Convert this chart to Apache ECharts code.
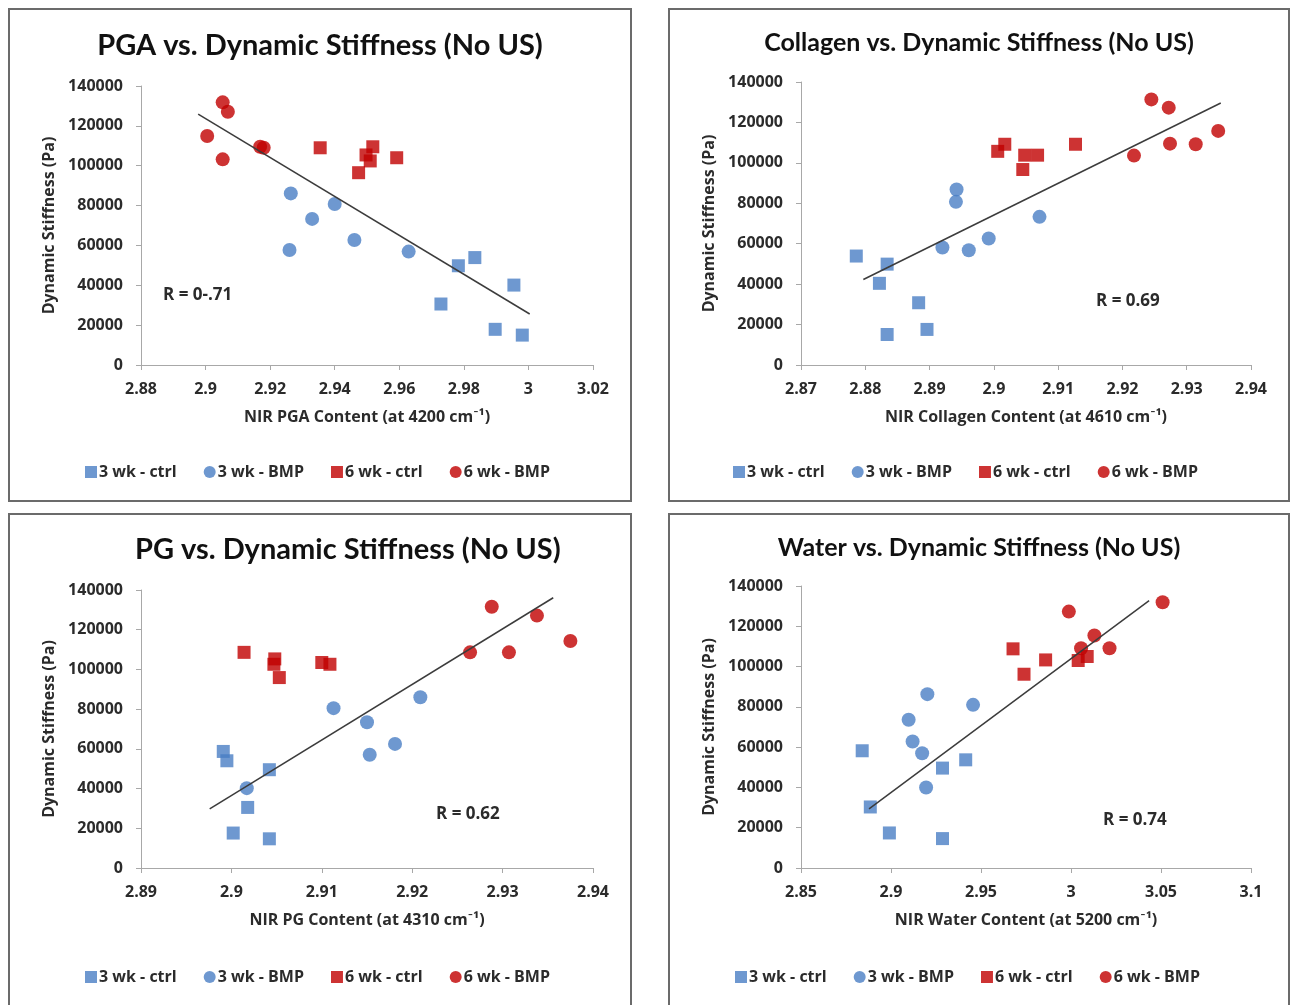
<!DOCTYPE html>
<html>
<head>
<meta charset="utf-8">
<script src="https://cdn.jsdelivr.net/npm/echarts@6/dist/echarts.min.js"></script>
<style>
    body { margin: 0; background: #fff; width: 1296px; height: 1005px; overflow: hidden; position: relative; }
    .panel { position: absolute; box-sizing: border-box; border: 2px solid #6b6b6b; background: #fff; }
    .chart { width: 100%; height: 100%; }
</style>
</head>
<body>
<div class="panel" style="left:8px;top:8px;width:624px;height:494px"><div class="chart" id="main1"></div></div>
<div class="panel" style="left:668px;top:8px;width:622px;height:494px"><div class="chart" id="main2"></div></div>
<div class="panel" style="left:8px;top:513px;width:624px;height:494px"><div class="chart" id="main3"></div></div>
<div class="panel" style="left:668px;top:513px;width:622px;height:494px"><div class="chart" id="main4"></div></div>
<script>
// legend names
var groupNames = ['3 wk - ctrl', '3 wk - BMP', '6 wk - ctrl', '6 wk - BMP'];
var stiffnessTicks = [0, 140000, 20000];

// PGA panel [NIR content, stiffness Pa]
var pga3Ctrl = [[2.9729, 30600], [2.9783, 49800], [2.9834, 53900], [2.9897, 17900], [2.9955, 40100], [2.9981, 15000]];
var pga3Bmp = [[2.9264, 86100], [2.9260, 57700], [2.9330, 73300], [2.9400, 80800], [2.9461, 62700], [2.9629, 56900]];
var pga6Ctrl = [[2.9355, 109000], [2.9474, 96500], [2.9497, 105400], [2.9510, 102400], [2.9518, 109500], [2.9592, 104000]];
var pga6Bmp = [[2.9053, 131800], [2.9069, 127100], [2.9005, 114900], [2.9053, 103200], [2.9169, 109500], [2.9180, 109000]];
var pgaTrend = [[2.8977, 125900], [3.0004, 25600]];
var pgaTicks = [2.88, 3.02, 0.02];

// Collagen panel
var col3Ctrl = [[2.8786, 53900], [2.8834, 49900], [2.8822, 40400], [2.8883, 30800], [2.8896, 17600], [2.8834, 15100]];
var col3Bmp = [[2.8942, 86800], [2.8941, 80700], [2.8920, 58100], [2.8961, 56800], [2.8992, 62600], [2.9071, 73300]];
var col6Ctrl = [[2.9006, 105700], [2.9017, 109200], [2.9045, 96700], [2.9048, 103800], [2.9068, 103800], [2.9127, 109200]];
var col6Bmp = [[2.9245, 131400], [2.9272, 127300], [2.9218, 103600], [2.9274, 109500], [2.9314, 109200], [2.9349, 115800]];
var colTrend = [[2.8797, 42300], [2.9353, 129600]];
var colTicks = [2.87, 2.94, 0.01];

// PG panel
var pg3Ctrl = [[2.8991, 58700], [2.8995, 54000], [2.9042, 49500], [2.9018, 30500], [2.9002, 17600], [2.9042, 14700]];
var pg3Bmp = [[2.9209, 86000], [2.9113, 80500], [2.9150, 73400], [2.9153, 57000], [2.9181, 62500], [2.9017, 40200]];
var pg6Ctrl = [[2.9014, 108600], [2.9048, 105300], [2.9047, 102600], [2.9053, 95900], [2.9100, 103500], [2.9109, 102600]];
var pg6Bmp = [[2.9288, 131600], [2.9338, 127100], [2.9264, 108600], [2.9307, 108600], [2.9375, 114300]];
var pgTrend = [[2.8976, 29800], [2.9356, 136100]];
var pgTicks = [2.89, 2.94, 0.01];

// Water panel
var wat3Ctrl = [[2.8840, 58200], [2.8885, 30300], [2.8991, 17400], [2.9286, 49600], [2.9415, 53700], [2.9286, 14600]];
var wat3Bmp = [[2.9202, 86300], [2.9456, 81000], [2.9098, 73600], [2.9120, 62800], [2.9173, 57000], [2.9195, 40000]];
var wat6Ctrl = [[2.9678, 108800], [2.9739, 96200], [2.9859, 103300], [3.0040, 103000], [3.0090, 105000]];
var wat6Bmp = [[2.9988, 127300], [3.0509, 131900], [3.0130, 115400], [3.0214, 109100], [3.0056, 109100]];
var watTrend = [[2.8878, 29400], [3.0434, 132700]];
var watTicks = [2.85, 3.1, 0.05];

var blue = '#4a7ec4';
var red = '#c00000';
var titleFont = 'Lato, "Open Sans", sans-serif';
var font = '"Open Sans", Lato, sans-serif';
var textColor = '#2b2b2b';

var buildOption = function (cfg) {
    var axisStyle = { color: '#a8a8a8', width: 1 };
    var nameText = { fontFamily: font, fontSize: 16, fontWeight: 'bold', color: textColor };
    return {
        animation: false,
        textStyle: { fontFamily: font },
        title: {
            text: cfg.title,
            left: cfg.titleLeft,
            top: cfg.titleTop,
            textStyle: { fontFamily: titleFont, fontSize: cfg.titleSize, fontWeight: 'bold', color: '#111' }
        },
        legend: {
            data: [
                { name: groupNames[0], icon: 'rect' },
                { name: groupNames[1], icon: 'circle' },
                { name: groupNames[2], icon: 'rect' },
                { name: groupNames[3], icon: 'circle' }
            ],
            left: cfg.legendLeft,
            top: 449,
            itemWidth: 12,
            itemHeight: 12,
            itemGap: 27,
            textStyle: { fontFamily: font, fontSize: 16, fontWeight: 'bold', color: textColor, padding: [0, 0, 0, -3] }
        },
        grid: { left: 131, right: 37, top: cfg.gridTop, bottom: cfg.gridBottom },
        xAxis: {
            type: 'value',
            min: cfg.ticks[0],
            max: cfg.ticks[1],
            interval: cfg.ticks[2],
            name: cfg.xName,
            nameLocation: 'middle',
            nameGap: 44,
            nameTextStyle: nameText,
            axisLine: { show: true, lineStyle: axisStyle },
            axisTick: { show: true, length: 5, lineStyle: axisStyle },
            splitLine: { show: false },
            axisLabel: {
                margin: 16, fontSize: 16, fontWeight: 'bold', color: textColor, fontFamily: font,
                formatter: function (v) { return String(+v.toFixed(3)); }
            }
        },
        yAxis: {
            type: 'value',
            min: stiffnessTicks[0],
            max: stiffnessTicks[1],
            interval: stiffnessTicks[2],
            name: 'Dynamic Stiffness (Pa)',
            nameLocation: 'middle',
            nameGap: 84,
            nameTextStyle: nameText,
            axisLine: { show: true, lineStyle: axisStyle },
            axisTick: { show: true, length: 5, lineStyle: axisStyle },
            splitLine: { show: false },
            axisLabel: {
                margin: 18, fontSize: 16, fontWeight: 'bold', color: textColor, fontFamily: font,
                formatter: function (v) { return String(v); }
            }
        },
        graphic: [{
            type: 'text',
            left: cfg.rPos[0],
            top: cfg.rPos[1],
            style: { text: cfg.rText, font: 'bold 17px ' + font, fill: textColor }
        }],
        series: [
            { name: groupNames[0], type: 'scatter', symbol: 'rect', symbolSize: 13, data: cfg.data[0], itemStyle: { color: blue } },
            { name: groupNames[1], type: 'scatter', symbol: 'circle', symbolSize: 14, data: cfg.data[1], itemStyle: { color: blue } },
            { name: groupNames[2], type: 'scatter', symbol: 'rect', symbolSize: 13, data: cfg.data[2], itemStyle: { color: red } },
            { name: groupNames[3], type: 'scatter', symbol: 'circle', symbolSize: 14, data: cfg.data[3], itemStyle: { color: red } },
            {
                name: 'trend', type: 'line', data: cfg.trend, symbol: 'none', silent: true, z: 5,
                lineStyle: { color: '#3c3c3c', width: 1.5 }
            }
        ]
    };
};

var panels = [
    {
        id: 'main1', title: 'PGA vs. Dynamic Stiffness (No US)', titleLeft: 'center', titleTop: 16, titleSize: 29,
        xName: 'NIR PGA Content (at 4200 cm\u207B\u00B9)', ticks: pgaTicks, gridTop: 76, gridBottom: 135,
        legendLeft: 70, rText: 'R = 0-.71', rPos: [153, 277],
        data: [pga3Ctrl, pga3Bmp, pga6Ctrl, pga6Bmp], trend: pgaTrend
    },
    {
        id: 'main2', title: 'Collagen vs. Dynamic Stiffness (No US)', titleLeft: 'center', titleTop: 15, titleSize: 25,
        xName: 'NIR Collagen Content (at 4610 cm\u207B\u00B9)', ticks: colTicks, gridTop: 72, gridBottom: 135,
        legendLeft: 58, rText: 'R = 0.69', rPos: [426, 283],
        data: [col3Ctrl, col3Bmp, col6Ctrl, col6Bmp], trend: colTrend
    },
    {
        id: 'main3', title: 'PG vs. Dynamic Stiffness (No US)', titleLeft: 120, titleTop: 15, titleSize: 29,
        xName: 'NIR PG Content (at 4310 cm\u207B\u00B9)', ticks: pgTicks, gridTop: 75, gridBottom: 137,
        legendLeft: 70, rText: 'R = 0.62', rPos: [426, 291],
        data: [pg3Ctrl, pg3Bmp, pg6Ctrl, pg6Bmp], trend: pgTrend
    },
    {
        id: 'main4', title: 'Water vs. Dynamic Stiffness (No US)', titleLeft: 'center', titleTop: 15, titleSize: 25,
        xName: 'NIR Water Content (at 5200 cm\u207B\u00B9)', ticks: watTicks, gridTop: 71, gridBottom: 137,
        legendLeft: 60, rText: 'R = 0.74', rPos: [433, 297],
        data: [wat3Ctrl, wat3Bmp, wat6Ctrl, wat6Bmp], trend: watTrend
    }
];

panels.forEach(function (p) {
    var chart = echarts.init(document.getElementById(p.id), null, { renderer: 'canvas' });
    chart.setOption(buildOption(p));
});
</script>
</body>
</html>
